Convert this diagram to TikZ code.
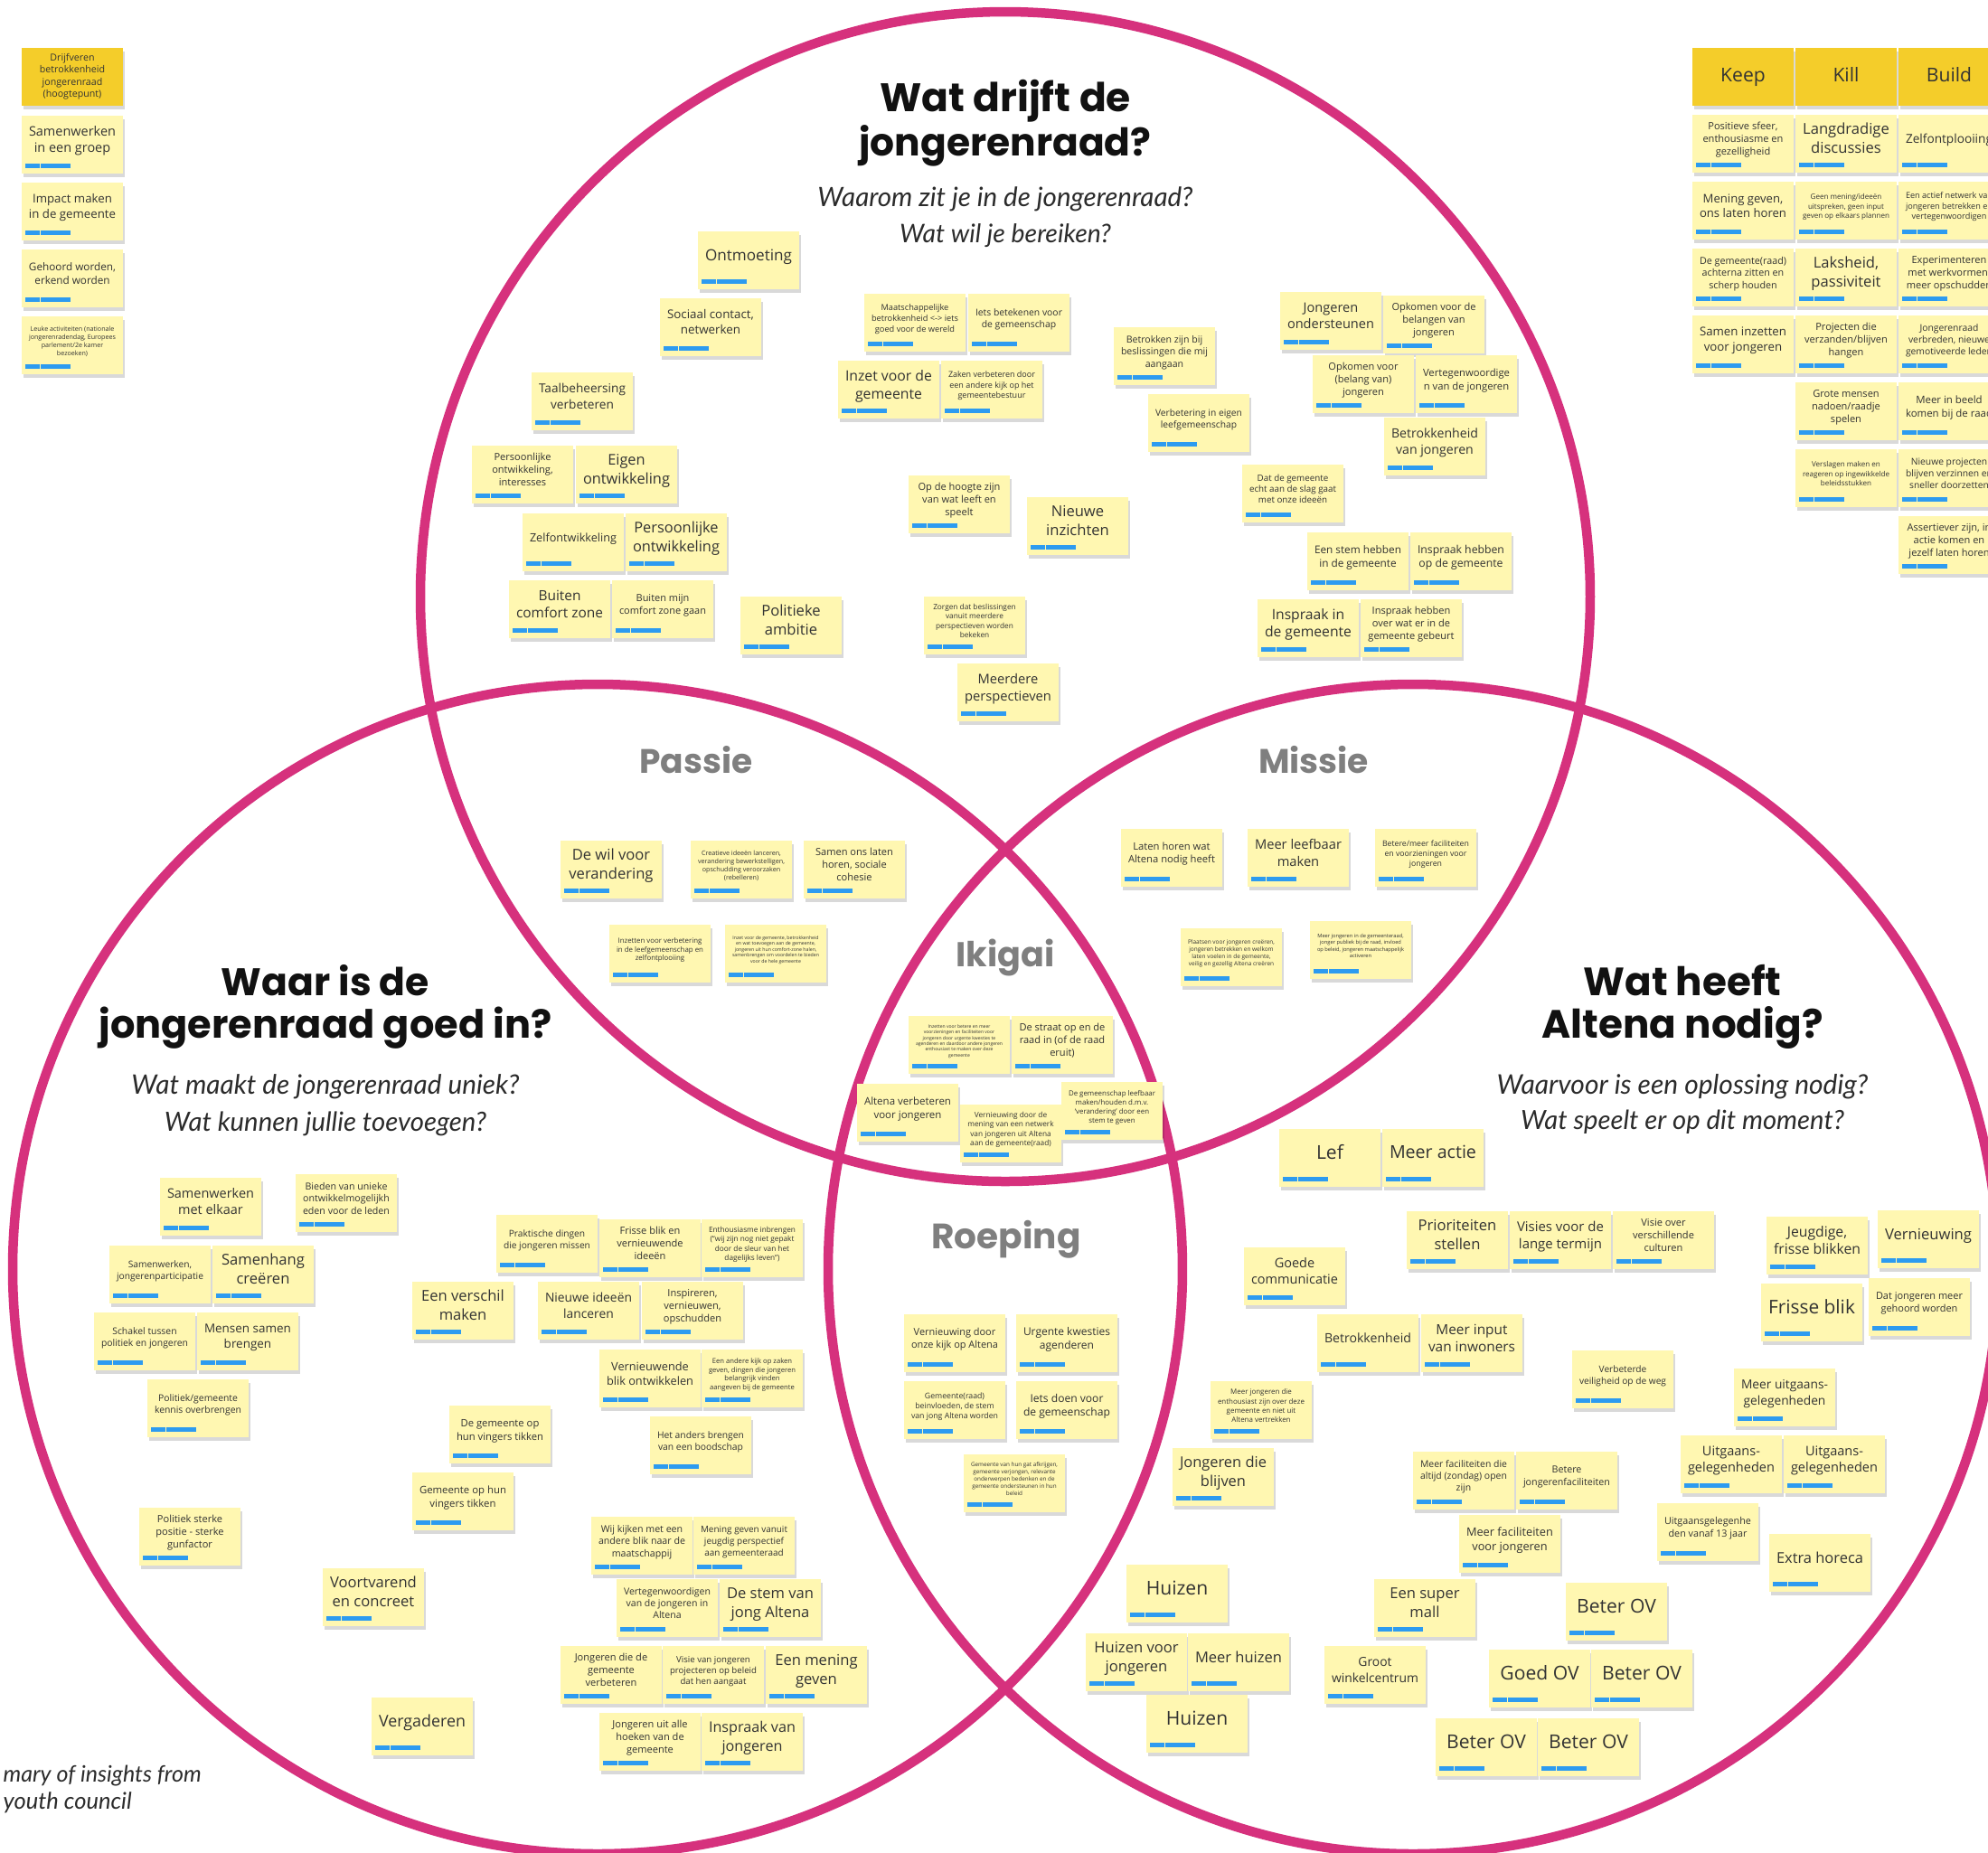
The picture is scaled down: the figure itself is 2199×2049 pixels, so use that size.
\documentclass[tikz,border=0pt]{standalone}
\usepackage{graphicx}
\usepackage{fontspec}
\setmainfont{Open Sans}
\newfontfamily\titlefont{Poppins}
\newfontfamily\subfont{Lato}
\usetikzlibrary{shadows}

\definecolor{ikiring}{RGB}{214,49,125}
\definecolor{notey}{HTML}{FFF7B1}
\definecolor{heady}{HTML}{F4CD2A}
\definecolor{tagblue}{HTML}{2D9BF0}
\definecolor{notetext}{HTML}{333333}
\definecolor{zonegray}{HTML}{7F7F7F}
\definecolor{titleblack}{HTML}{111111}
\definecolor{subgray}{HTML}{2B2B2B}

\newsavebox\stbox
\newlength\stw
\newlength\sth
% shrink the text of a sticky until it fits
\newcommand\stfitgen[3]{%
  \sbox\stbox{\fontsize{6}{7.6}\selectfont\begin{tabular}{@{}c@{}}#3\end{tabular}}%
  \stw=\wd\stbox \sth=\ht\stbox \advance\sth by \dp\stbox
  \pgfmathsetmacro\stsc{min(1,9.6mm/\stw,#2/\sth)}%
  \raisebox{#1}[\height][\depth]{\scalebox{\stsc}{\usebox\stbox}}}
\newcommand\stnote[4]{\node[sticky] (#1) at (#2,#3) {\stfitgen{0.4mm}{4.2mm}{#4}};}
\newcommand\sthead[4]{\node[headnote] (#1) at (#2,#3) {\stfitgen{0mm}{5.4mm}{#4}};}

\begin{document}
\begin{tikzpicture}[x=0.1mm,y=-0.1mm,
  sticky/.style={rectangle,fill=notey,minimum width=11.2mm,minimum height=6.4mm,inner sep=0pt,text=notetext,
    drop shadow={shadow xshift=0.2mm,shadow yshift=-0.35mm,opacity=0.15,fill=black},
    path picture={
      \fill[tagblue] ([xshift=0.35mm,yshift=-5.25mm]path picture bounding box.north west) rectangle ++(1.6mm,-0.5mm);
      \fill[tagblue] ([xshift=2.1mm,yshift=-5.25mm]path picture bounding box.north west) rectangle ++(3.3mm,-0.5mm);}},
  headnote/.style={rectangle,fill=heady,minimum width=11.2mm,minimum height=6.4mm,inner sep=0pt,text=notetext,
    drop shadow={shadow xshift=0.2mm,shadow yshift=-0.35mm,opacity=0.15,fill=black}},
  vennring/.style={draw=ikiring,line width=1.05mm},
  bigtitle/.style={text=titleblack,inner sep=0pt,font=\titlefont\bfseries},
  subtitle/.style={text=subgray,inner sep=0pt,font=\subfont\itshape},
  zone/.style={text=zonegray,inner sep=0pt,font=\titlefont\bfseries}]

  \useasboundingbox (0,0) rectangle (2199,2049);
  \fill[white] (0,0) rectangle (2199,2049);
  \clip (0,0) rectangle (2199,2049);

  % the three circles
  \draw[vennring] (1112,660) circle[radius=64.7mm];
  \draw[vennring] (661,1404) circle[radius=64.7mm];
  \draw[vennring] (1563,1404) circle[radius=64.7mm];

  % left column
  \sthead{drijf}{80}{85}{Drijfveren\\betrokkenheid\\jongerenraad\\(hoogtepunt)}
  \stnote{col1}{80}{160}{Samenwerken\\in een groep}
  \stnote{col2}{80}{234}{Impact maken\\in de gemeente}
  \stnote{col3}{80}{308}{Gehoord worden,\\erkend worden}
  \stnote{col4}{80}{382}{Leuke activiteiten (nationale\\jongerenradendag, Europees\\parlement/2e kamer\\bezoeken)}

  % keep / kill / build
  \sthead{keep}{1928}{85}{Keep}
  \sthead{kill}{2042}{85}{Kill}
  \sthead{build}{2156}{85}{Build}
  \stnote{keep1}{1928}{159}{Positieve sfeer,\\enthousiasme en\\gezelligheid}
  \stnote{keep2}{1928}{233}{Mening geven,\\ons laten horen}
  \stnote{keep3}{1928}{307}{De gemeente(raad)\\achterna zitten en\\scherp houden}
  \stnote{keep4}{1928}{381}{Samen inzetten\\voor jongeren}
  \stnote{kill1}{2042}{159}{Langdradige\\discussies}
  \stnote{kill2}{2042}{233}{Geen mening/ideeën\\uitspreken, geen input\\geven op elkaars plannen}
  \stnote{kill3}{2042}{307}{Laksheid,\\passiviteit}
  \stnote{kill4}{2042}{381}{Projecten die\\verzanden/blijven\\hangen}
  \stnote{kill5}{2042}{455}{Grote mensen\\nadoen/raadje\\spelen}
  \stnote{kill6}{2042}{529}{Verslagen maken en\\reageren op ingewikkelde\\beleidsstukken}
  \stnote{build1}{2156}{159}{Zelfontplooiing}
  \stnote{build2}{2156}{233}{Een actief netwerk van\\jongeren betrekken en\\vertegenwoordigen}
  \stnote{build3}{2156}{307}{Experimenteren\\met werkvormen,\\meer opschudden}
  \stnote{build4}{2156}{381}{Jongerenraad\\verbreden, nieuwe\\gemotiveerde leden}
  \stnote{build5}{2156}{455}{Meer in beeld\\komen bij de raad}
  \stnote{build6}{2156}{529}{Nieuwe projecten\\blijven verzinnen en\\sneller doorzetten}
  \stnote{build7}{2156}{603}{Assertiever zijn, in\\actie komen en\\jezelf laten horen}

  % top circle
  \stnote{top1}{828}{288}{Ontmoeting}
  \stnote{top2}{786}{362}{Sociaal contact,\\netwerken}
  \stnote{top3}{644}{444}{Taalbeheersing\\verbeteren}
  \stnote{top4}{578}{525}{Persoonlijke\\ontwikkeling,\\interesses}
  \stnote{top5}{693}{525}{Eigen\\ontwikkeling}
  \stnote{top6}{634}{600}{Zelfontwikkeling}
  \stnote{top7}{748}{600}{Persoonlijke\\ontwikkeling}
  \stnote{top8}{619}{674}{Buiten\\comfort zone}
  \stnote{top9}{733}{674}{Buiten mijn\\comfort zone gaan}
  \stnote{top10}{875}{692}{Politieke\\ambitie}
  \stnote{top11}{1012}{357}{Maatschappelijke\\betrokkenheid <-> iets\\goed voor de wereld}
  \stnote{top12}{1127}{357}{Iets betekenen voor\\de gemeenschap}
  \stnote{top13}{983}{431}{Inzet voor de\\gemeente}
  \stnote{top14}{1097}{431}{Zaken verbeteren door\\een andere kijk op het\\gemeentebestuur}
  \stnote{top15}{1288}{394}{Betrokken zijn bij\\beslissingen die mij\\aangaan}
  \stnote{top16}{1326}{468}{Verbetering in eigen\\leefgemeenschap}
  \stnote{top17}{1061}{558}{Op de hoogte zijn\\van wat leeft en\\speelt}
  \stnote{top18}{1192}{582}{Nieuwe\\inzichten}
  \stnote{top19}{1078}{692}{Zorgen dat beslissingen\\vanuit meerdere\\perspectieven worden\\bekeken}
  \stnote{top20}{1115}{766}{Meerdere\\perspectieven}
  \stnote{top21}{1472}{355}{Jongeren\\ondersteunen}
  \stnote{top22}{1586}{359}{Opkomen voor de\\belangen van\\jongeren}
  \stnote{top23}{1508}{425}{Opkomen voor\\(belang van)\\jongeren}
  \stnote{top24}{1622}{425}{Vertegenwoordige\\n van de jongeren}
  \stnote{top25}{1587}{494}{Betrokkenheid\\van jongeren}
  \stnote{top26}{1430}{546}{Dat de gemeente\\echt aan de slag gaat\\met onze ideeën}
  \stnote{top27}{1502}{621}{Een stem hebben\\in de gemeente}
  \stnote{top28}{1616}{621}{Inspraak hebben\\op de gemeente}
  \stnote{top29}{1447}{695}{Inspraak in\\de gemeente}
  \stnote{top30}{1561}{695}{Inspraak hebben\\over wat er in de\\gemeente gebeurt}

  % passie
  \stnote{pas1}{676}{962}{De wil voor\\verandering}
  \stnote{pas2}{820}{962}{Creatieve ideeën lanceren,\\verandering bewerkstelligen,\\opschudding veroorzaken\\(rebelleren)}
  \stnote{pas3}{945}{962}{Samen ons laten\\horen, sociale\\cohesie}
  \stnote{pas4}{730}{1055}{Inzetten voor verbetering\\in de leefgemeenschap en\\zelfontplooiing}
  \stnote{pas5}{858}{1055}{Inzet voor de gemeente, betrokkenheid\\en wat toevoegen aan de gemeente,\\jongeren uit hun comfort-zone halen,\\samenbrengen om voordelen te bieden\\voor de hele gemeente}

  % missie
  \stnote{mis1}{1296}{949}{Laten horen wat\\Altena nodig heeft}
  \stnote{mis2}{1436}{949}{Meer leefbaar\\maken}
  \stnote{mis3}{1577}{949}{Betere/meer faciliteiten\\en voorzieningen voor\\jongeren}
  \stnote{mis4}{1362}{1059}{Plaatsen voor jongeren creëren,\\jongeren betrekken en welkom\\laten voelen in de gemeente,\\veilig en gezellig Altena creëren}
  \stnote{mis5}{1505}{1051}{Meer jongeren in de gemeenteraad,\\jonger publiek bij de raad, invloed\\op beleid, jongeren maatschappelijk\\activeren}

  % ikigai
  \stnote{iki1}{1061}{1156}{Inzetten voor betere en meer\\voorzieningen en faciliteiten voor\\jongeren door urgente kwesties te\\agenderen en daardoor andere jongeren\\enthousiast te maken over deze\\gemeente}
  \stnote{iki2}{1175}{1156}{De straat op en de\\raad in (of de raad\\eruit)}
  \stnote{iki3}{1004}{1231}{Altena verbeteren\\voor jongeren}
  \stnote{iki4}{1118}{1254}{Vernieuwing door de\\mening van een netwerk\\van jongeren uit Altena\\aan de gemeente(raad)}
  \stnote{iki5}{1230}{1229}{De gemeenschap leefbaar\\maken/houden d.m.v.\\‘verandering’ door een\\stem te geven}

  % roeping
  \stnote{roe1}{1056}{1486}{Vernieuwing door\\onze kijk op Altena}
  \stnote{roe2}{1180}{1486}{Urgente kwesties\\agenderen}
  \stnote{roe3}{1056}{1560}{Gemeente(raad)\\beinvloeden, de stem\\van jong Altena worden}
  \stnote{roe4}{1180}{1560}{Iets doen voor\\de gemeenschap}
  \stnote{roe5}{1122}{1641}{Gemeente van hun gat afkrijgen,\\gemeente verjongen, relevante\\onderwerpen bedenken en de\\gemeente ondersteunen in hun\\beleid}

  % left circle
  \stnote{lft1}{233}{1335}{Samenwerken\\met elkaar}
  \stnote{lft2}{383}{1331}{Bieden van unieke\\ontwikkelmogelijkh\\eden voor de leden}
  \stnote{lft3}{177}{1410}{Samenwerken,\\jongerenparticipatie}
  \stnote{lft4}{291}{1410}{Samenhang\\creëren}
  \stnote{lft5}{160}{1484}{Schakel tussen\\politiek en jongeren}
  \stnote{lft6}{274}{1484}{Mensen samen\\brengen}
  \stnote{lft7}{219}{1558}{Politiek/gemeente\\kennis overbrengen}
  \stnote{lft8}{210}{1700}{Politiek sterke\\positie - sterke\\gunfactor}
  \stnote{lft9}{512}{1450}{Een verschil\\maken}
  \stnote{lft10}{553}{1587}{De gemeente op\\hun vingers tikken}
  \stnote{lft11}{512}{1661}{Gemeente op hun\\vingers tikken}
  \stnote{lft12}{413}{1767}{Voortvarend\\en concreet}
  \stnote{lft13}{467}{1910}{Vergaderen}
  \stnote{lft14}{605}{1376}{Praktische dingen\\die jongeren missen}
  \stnote{lft15}{719}{1381}{Frisse blik en\\vernieuwende\\ideeën}
  \stnote{lft16}{832}{1381}{Enthousiasme inbrengen\\(“wij zijn nog niet gepakt\\door de sleur van het\\dagelijks leven”)}
  \stnote{lft17}{651}{1450}{Nieuwe ideeën\\lanceren}
  \stnote{lft18}{766}{1450}{Inspireren,\\vernieuwen,\\opschudden}
  \stnote{lft19}{719}{1525}{Vernieuwende\\blik ontwikkelen}
  \stnote{lft20}{832}{1525}{Een andere kijk op zaken\\geven, dingen die jongeren\\belangrijk vinden\\aangeven bij de gemeente}
  \stnote{lft21}{775}{1599}{Het anders brengen\\van een boodschap}
  \stnote{lft22}{710}{1710}{Wij kijken met een\\andere blik naar de\\maatschappij}
  \stnote{lft23}{823}{1710}{Mening geven vanuit\\jeugdig perspectief\\aan gemeenteraad}
  \stnote{lft24}{738}{1779}{Vertegenwoordigen\\van de jongeren in\\Altena}
  \stnote{lft25}{852}{1779}{De stem van\\jong Altena}
  \stnote{lft26}{676}{1853}{Jongeren die de\\gemeente\\verbeteren}
  \stnote{lft27}{789}{1853}{Visie van jongeren\\projecteren op beleid\\dat hen aangaat}
  \stnote{lft28}{903}{1853}{Een mening\\geven}
  \stnote{lft29}{719}{1927}{Jongeren uit alle\\hoeken van de\\gemeente}
  \stnote{lft30}{832}{1927}{Inspraak van\\jongeren}

  % right circle
  \stnote{rgt1}{1471}{1281}{Lef}
  \stnote{rgt2}{1585}{1281}{Meer actie}
  \stnote{rgt3}{1612}{1372}{Prioriteiten\\stellen}
  \stnote{rgt4}{1726}{1372}{Visies voor de\\lange termijn}
  \stnote{rgt5}{1840}{1372}{Visie over\\verschillende\\culturen}
  \stnote{rgt6}{1432}{1412}{Goede\\communicatie}
  \stnote{rgt7}{1513}{1486}{Betrokkenheid}
  \stnote{rgt8}{1628}{1486}{Meer input\\van inwoners}
  \stnote{rgt9}{1795}{1526}{Verbeterde\\veiligheid op de weg}
  \stnote{rgt10}{1395}{1560}{Meer jongeren die\\enthousiast zijn over deze\\gemeente en niet uit\\Altena vertrekken}
  \stnote{rgt11}{1353}{1634}{Jongeren die\\blijven}
  \stnote{rgt12}{1619}{1638}{Meer faciliteiten die\\altijd (zondag) open\\zijn}
  \stnote{rgt13}{1733}{1638}{Betere\\jongerenfaciliteiten}
  \stnote{rgt14}{1670}{1708}{Meer faciliteiten\\voor jongeren}
  \stnote{rgt15}{2010}{1378}{Jeugdige,\\frisse blikken}
  \stnote{rgt16}{2133}{1371}{Vernieuwing}
  \stnote{rgt17}{2004}{1452}{Frisse blik}
  \stnote{rgt18}{2123}{1446}{Dat jongeren meer\\gehoord worden}
  \stnote{rgt19}{1974}{1546}{Meer uitgaans-\\gelegenheden}
  \stnote{rgt20}{1915}{1620}{Uitgaans-\\gelegenheden}
  \stnote{rgt21}{2029}{1620}{Uitgaans-\\gelegenheden}
  \stnote{rgt22}{1889}{1695}{Uitgaansgelegenhe\\den vanaf 13 jaar}
  \stnote{rgt23}{2013}{1729}{Extra horeca}
  \stnote{rgt24}{1302}{1763}{Huizen}
  \stnote{rgt25}{1257}{1839}{Huizen voor\\jongeren}
  \stnote{rgt26}{1370}{1839}{Meer huizen}
  \stnote{rgt27}{1324}{1907}{Huizen}
  \stnote{rgt28}{1576}{1779}{Een super\\mall}
  \stnote{rgt29}{1521}{1853}{Groot\\winkelcentrum}
  \stnote{rgt30}{1788}{1783}{Beter OV}
  \stnote{rgt31}{1703}{1857}{Goed OV}
  \stnote{rgt32}{1816}{1857}{Beter OV}
  \stnote{rgt33}{1644}{1933}{Beter OV}
  \stnote{rgt34}{1757}{1933}{Beter OV}

  % titles
  \node[bigtitle] (ttop1) at (1112,112) {\resizebox{27.8mm}{!}{Wat drijft de}};
  \node[bigtitle] (ttop2) at (1112,161) {\resizebox{32.3mm}{!}{jongerenraad?}};
  \node[subtitle] (stop1) at (1112,220) {\resizebox{41.5mm}{!}{Waarom zit je in de jongerenraad?}};
  \node[subtitle] (stop2) at (1112,261) {\resizebox{23.4mm}{!}{Wat wil je bereiken?}};
  \node[bigtitle] (tlft1) at (360,1085) {\resizebox{23.0mm}{!}{Waar is de}};
  \node[bigtitle] (tlft2) at (360,1137) {\resizebox{50.1mm}{!}{jongerenraad goed in?}};
  \node[subtitle] (slft1) at (360,1202) {\resizebox{42.9mm}{!}{Wat maakt de jongerenraad uniek?}};
  \node[subtitle] (slft2) at (360,1243) {\resizebox{35.6mm}{!}{Wat kunnen jullie toevoegen?}};
  \node[bigtitle] (trgt1) at (1861,1085) {\resizebox{21.9mm}{!}{Wat heeft}};
  \node[bigtitle] (trgt2) at (1861,1137) {\resizebox{31.1mm}{!}{Altena nodig?}};
  \node[subtitle] (srgt1) at (1861,1202) {\resizebox{41.1mm}{!}{Waarvoor is een oplossing nodig?}};
  \node[subtitle] (srgt2) at (1861,1241) {\resizebox{35.8mm}{!}{Wat speelt er op dit moment?}};

  \node[zone] (passie) at (770,841) {\resizebox{12.5mm}{!}{Passie}};
  \node[zone] (missie) at (1453,841) {\resizebox{12.2mm}{!}{Missie}};
  \node[zone] (ikigai) at (1112,1059) {\resizebox{10.9mm}{!}{Ikigai}};
  \node[zone] (roeping) at (1113,1371) {\resizebox{16.5mm}{!}{Roeping}};

  \node[subtitle,anchor=west] (foot1) at (3,1965) {\resizebox{21.9mm}{!}{mary of insights from}};
  \node[subtitle,anchor=west] (foot2) at (3,1994) {\resizebox{14.2mm}{!}{youth council}};
\end{tikzpicture}
\end{document}
